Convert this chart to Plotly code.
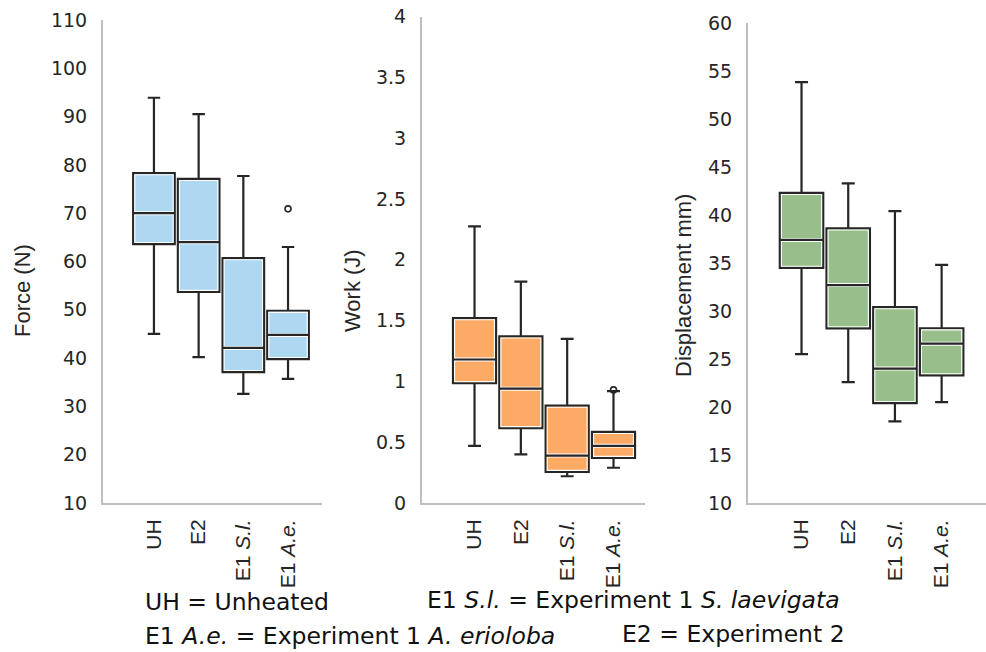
import plotly.graph_objects as go

# ---------------- data ----------------
categories = ["UH", "E2", "E1 S.l.", "E1 A.e."]
cat_labels = ["UH", "E2", "E1 <i>S.l.</i>", "E1 <i>A.e.</i>"]
positions = [0, 1, 2, 3]

force_lower = [45.0, 40.2, 32.6, 35.7]
force_q1 = [63.6, 53.7, 37.1, 39.8]
force_median = [70.0, 64.0, 42.1, 44.8]
force_q3 = [78.3, 77.1, 60.7, 49.8]
force_upper = [93.9, 90.5, 77.7, 63.0]
force_outliers = [[], [], [], [70.9]]

work_lower = [0.47, 0.40, 0.22, 0.29]
work_q1 = [0.985, 0.615, 0.255, 0.37]
work_median = [1.18, 0.94, 0.39, 0.47]
work_q3 = [1.52, 1.37, 0.80, 0.585]
work_upper = [2.275, 1.82, 1.35, 0.92]
work_outliers = [[], [], [], [0.93]]

disp_lower = [25.5, 22.6, 18.5, 20.5]
disp_q1 = [34.5, 28.2, 20.4, 23.3]
disp_median = [37.4, 32.7, 24.0, 26.6]
disp_q3 = [42.3, 38.6, 30.4, 28.2]
disp_upper = [53.85, 43.3, 40.4, 34.8]
disp_outliers = [[], [], [], []]

force_ticks = [10, 20, 30, 40, 50, 60, 70, 80, 90, 100, 110]
work_ticks = [0, 0.5, 1, 1.5, 2, 2.5, 3, 3.5, 4]
disp_ticks = [10, 15, 20, 25, 30, 35, 40, 45, 50, 55, 60]

# ---------------- layout geometry ----------------
W, H = 986, 652
DARK = "#262626"
AXIS_GRAY = "#BFBFBF"
NARROW = "Liberation Sans Narrow, Arial Narrow, Liberation Sans, sans-serif"
TICKFONT = "DejaVu Sans, Verdana, sans-serif"

panels = [
    dict(lower=force_lower, q1=force_q1, med=force_median, q3=force_q3, upper=force_upper,
         out=force_outliers, ticks=force_ticks, yr=[10, 110], xr=[-1.14, 3.76],
         xpx=[103, 322], ypx=[503, 20], fill="#AED7F1", title="Force (N)", tpos=(22, 291)),
    dict(lower=work_lower, q1=work_q1, med=work_median, q3=work_q3, upper=work_upper,
         out=work_outliers, ticks=work_ticks, yr=[0, 4], xr=[-1.134, 3.68],
         xpx=[422, 645], ypx=[503, 16.5], fill="#FDAA66", title="Work (J)", tpos=(352, 291)),
    dict(lower=disp_lower, q1=disp_q1, med=disp_median, q3=disp_q3, upper=disp_upper,
         out=disp_outliers, ticks=disp_ticks, yr=[10, 60], xr=[-1.146, 3.95],
         xpx=[748, 986], ypx=[503, 23], fill="#97BE8B", title="Displacement mm)", tpos=(683, 286)),
]

fig = go.Figure()
layout_axes = {}
annotations = []
BW = 0.93

for i, p in enumerate(panels):
    n = "" if i == 0 else str(i + 1)
    xa, ya = "x" + n, "y" + n
    ppux = (p["xpx"][1] - p["xpx"][0]) / (p["xr"][1] - p["xr"][0])
    ppuy = (p["ypx"][0] - p["ypx"][1]) / (p["yr"][1] - p["yr"][0])
    dx = 1.6 / ppux
    dy = 1.6 / ppuy

    # main box with whiskers
    fig.add_trace(go.Box(
        x=positions, q1=p["q1"], median=p["med"], q3=p["q3"],
        lowerfence=p["lower"], upperfence=p["upper"],
        width=BW, whiskerwidth=0.3, fillcolor=p["fill"],
        line=dict(color=DARK, width=2.2), boxpoints=False,
        hoverinfo="skip", showlegend=False, xaxis=xa, yaxis=ya))
    # inner white outline
    iq1 = [v + dy for v in p["q1"]]
    iq3 = [v - dy for v in p["q3"]]
    fig.add_trace(go.Box(
        x=positions, q1=iq1, median=p["med"], q3=iq3,
        lowerfence=iq1, upperfence=iq3,
        width=BW - 2 * dx, whiskerwidth=0, fillcolor="rgba(0,0,0,0)",
        line=dict(color="white", width=1.1), boxpoints=False,
        hoverinfo="skip", showlegend=False, xaxis=xa, yaxis=ya))
    # median white band
    fig.add_trace(go.Box(
        x=positions, q1=p["med"], median=p["med"], q3=p["med"],
        lowerfence=p["med"], upperfence=p["med"],
        width=BW - 2 * (1.2 / ppux), whiskerwidth=0, fillcolor="rgba(0,0,0,0)",
        line=dict(color="white", width=4), boxpoints=False,
        hoverinfo="skip", showlegend=False, xaxis=xa, yaxis=ya))
    # median dark line
    fig.add_trace(go.Box(
        x=positions, q1=p["med"], median=p["med"], q3=p["med"],
        lowerfence=p["med"], upperfence=p["med"],
        width=BW, whiskerwidth=0, fillcolor="rgba(0,0,0,0)",
        line=dict(color=DARK, width=2.2), boxpoints=False,
        hoverinfo="skip", showlegend=False, xaxis=xa, yaxis=ya))
    # outliers
    ox, oy = [], []
    for pos, vals in zip(positions, p["out"]):
        for v in vals:
            ox.append(pos)
            oy.append(v)
    if ox:
        fig.add_trace(go.Scatter(
            x=ox, y=oy, mode="markers",
            marker=dict(symbol="circle-open", size=6, color=DARK, line=dict(width=1.6)),
            hoverinfo="skip", showlegend=False, xaxis=xa, yaxis=ya))

    xdom = [p["xpx"][0] / W, min(1.0, p["xpx"][1] / W)]
    ydom = [(H - p["ypx"][0]) / H, (H - p["ypx"][1]) / H]
    layout_axes["xaxis" + n] = dict(
        domain=xdom, range=p["xr"], anchor=ya, automargin=False,
        tickmode="array", tickvals=positions, ticktext=cat_labels,
        tickangle=-90, tickfont=dict(family=NARROW, size=21, color=DARK),
        showline=True, linecolor=AXIS_GRAY, linewidth=2, showgrid=False,
        zeroline=False, ticks="", ticklabelstandoff=6, fixedrange=True)
    layout_axes["yaxis" + n] = dict(
        domain=ydom, range=p["yr"], anchor=xa, automargin=False,
        tickmode="array", tickvals=p["ticks"],
        ticktext=[("%g" % t) for t in p["ticks"]],
        tickfont=dict(family=TICKFONT, size=19, color=DARK),
        showline=True, linecolor=AXIS_GRAY, linewidth=2, showgrid=False,
        zeroline=False, ticks="", ticklabelstandoff=10, fixedrange=True)
    annotations.append(dict(
        text=p["title"], x=p["tpos"][0] / W, y=1 - p["tpos"][1] / H,
        xref="paper", yref="paper", xanchor="center", yanchor="middle",
        textangle=-90, showarrow=False,
        font=dict(family=NARROW, size=22, color=DARK)))

FOOT = "DejaVu Sans, Verdana, sans-serif"
footer = [
    ("UH = Unheated", 143, 602),
    ("E1 <i>S.l.</i> = Experiment 1 <i>S. laevigata</i>", 425, 600),
    ("E1 <i>A.e.</i> = Experiment 1 <i>A. erioloba</i>", 143, 636),
    ("E2 = Experiment 2", 620, 634),
]
for txt, fx, fy in footer:
    annotations.append(dict(
        text=txt, x=fx / W, y=1 - fy / H, xref="paper", yref="paper",
        xanchor="left", yanchor="middle", showarrow=False,
        font=dict(family=FOOT, size=23.5, color="#111111")))

fig.update_layout(
    width=W, height=H, margin=dict(l=0, r=0, t=0, b=0, autoexpand=False),
    paper_bgcolor="white", plot_bgcolor="white",
    boxmode="overlay", showlegend=False,
    annotations=annotations, **layout_axes)

fig.write_html("out.html", config={"displayModeBar": False})
